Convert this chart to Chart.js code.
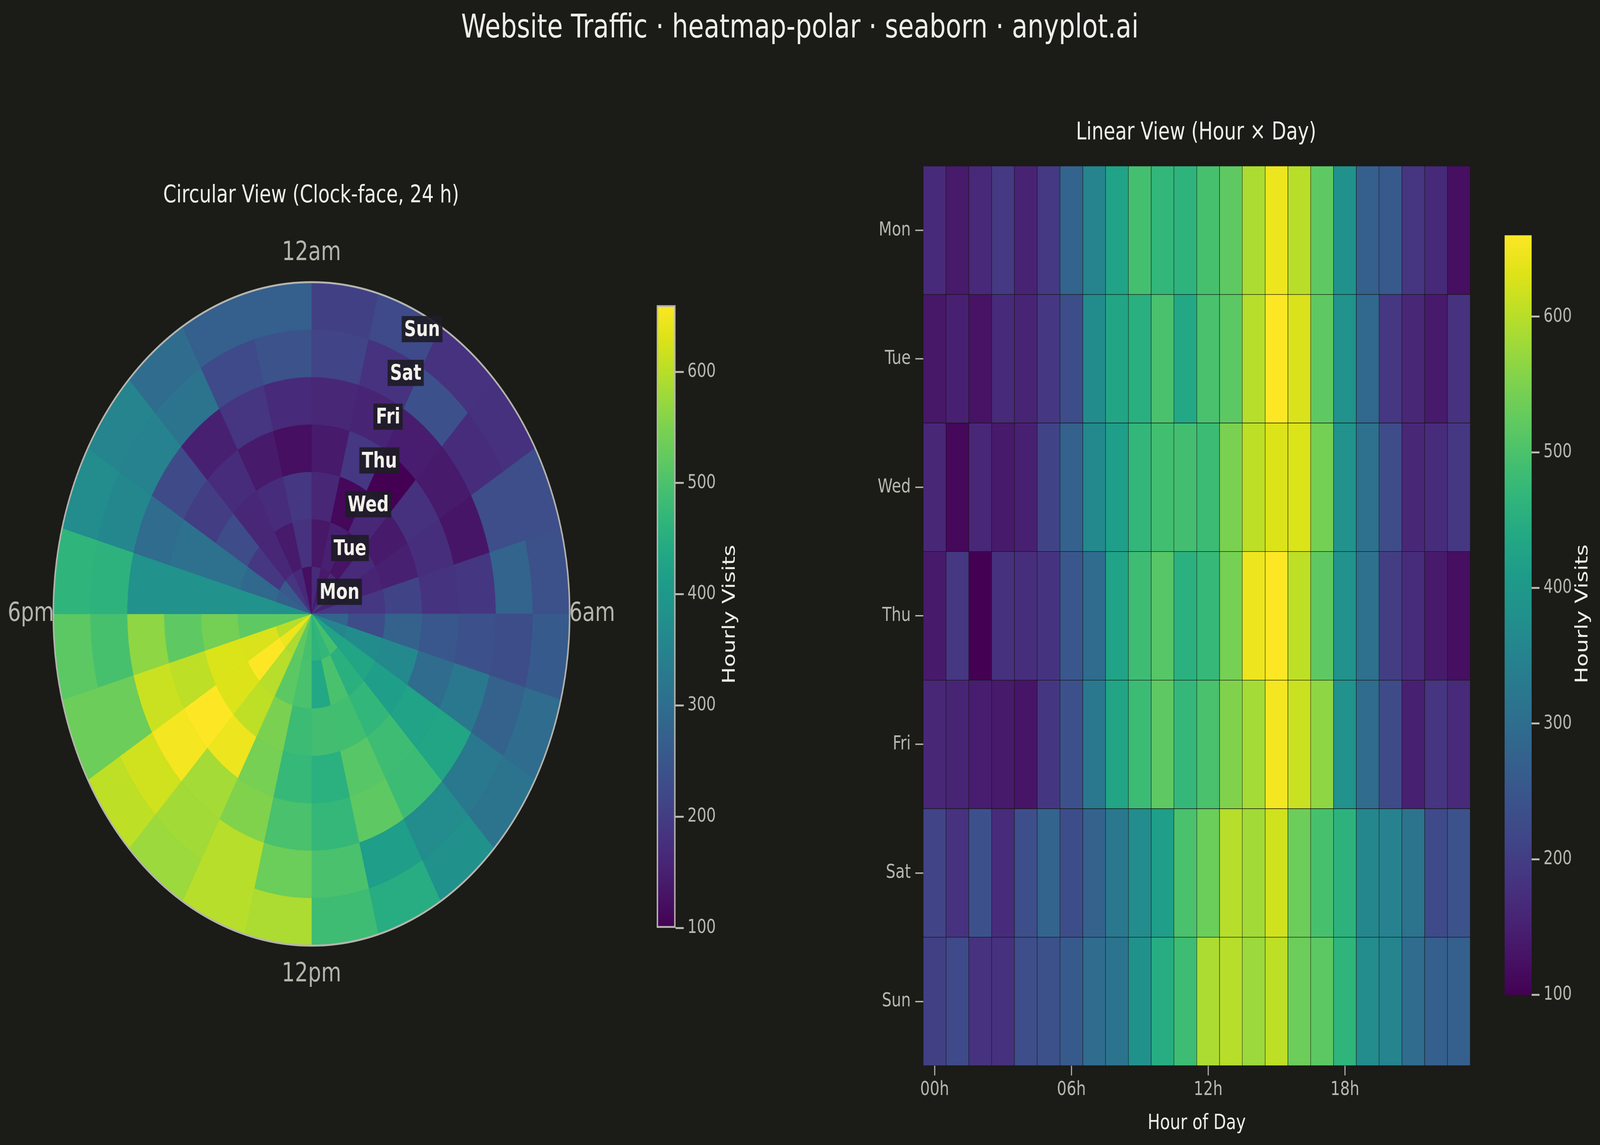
<!DOCTYPE html>
<html>
<head>
<meta charset="utf-8">
<title>Website Traffic · heatmap-polar</title>
<script src="https://cdn.jsdelivr.net/npm/chart.js@4.4.1/dist/chart.umd.min.js"></script>
<style>
  html, body { margin: 0; padding: 0; background: #1b1b17; overflow: hidden; }
  body { font-family: 'DejaVu Sans', sans-serif; }
  #stage { position: absolute; left: 0; top: 0; width: 5265px; height: 2932px; transform-origin: 0 0; }
  canvas { position: absolute; }
  .lbl { position: absolute; white-space: nowrap; transform: translate(-50%, -50%); color: #efeee8; line-height: 1; }
  .rot { transform: translate(-50%, -50%) rotate(-90deg); }
</style>
</head>
<body>
<div id="stage">
<div class="lbl" style="left:2632px;top:67px;font-size:84px">Website Traffic · heatmap-polar · seaborn · anyplot.ai</div>
<div class="lbl" style="left:1024px;top:497px;font-size:62px">Circular View (Clock-face, 24 h)</div>
<div class="lbl" style="left:3936px;top:336px;font-size:62px">Linear View (Hour × Day)</div>
<div class="lbl rot" style="left:2398px;top:1573px;font-size:57px">Hourly Visits</div>
<div class="lbl rot" style="left:5205px;top:1572px;font-size:57px">Hourly Visits</div>

<canvas id="polar" width="2048" height="1940" style="left:1px;top:602px"></canvas>
<canvas id="cbLeft" width="233" height="1680" style="left:2140px;top:740px"></canvas>
<canvas id="heat" width="2100" height="2560" style="left:2800px;top:380px"></canvas>
<canvas id="cbRight" width="310" height="2030" style="left:4930px;top:560px"></canvas>
</div>

<script>
// hourly visits, one array per weekday (00h .. 23h)
const mon = [167, 140, 163, 193, 155, 193, 278, 352, 425, 492, 470, 462, 495, 520, 590, 645, 600, 520, 380, 268, 255, 185, 165, 122];
const tue = [134, 150, 128, 167, 156, 190, 229, 370, 430, 453, 498, 436, 497, 517, 598, 660, 627, 520, 383, 287, 190, 162, 140, 180];
const wed = [162, 111, 162, 140, 150, 210, 274, 363, 414, 470, 489, 490, 481, 548, 604, 630, 629, 542, 383, 307, 227, 162, 170, 190];
const thu = [140, 190, 100, 178, 173, 183, 251, 296, 425, 485, 512, 455, 474, 543, 645, 660, 604, 520, 383, 307, 200, 170, 140, 122];
const fri = [162, 156, 145, 140, 131, 188, 237, 323, 430, 481, 520, 472, 497, 553, 584, 652, 615, 565, 383, 296, 223, 150, 185, 167];
const sat = [212, 181, 237, 170, 232, 279, 229, 274, 324, 369, 414, 498, 533, 598, 582, 620, 534, 495, 460, 358, 348, 313, 224, 240];
const sun = [205, 224, 181, 179, 232, 235, 257, 296, 313, 380, 447, 484, 590, 598, 576, 604, 534, 517, 464, 369, 352, 296, 268, 268];

const days = ['Mon', 'Tue', 'Wed', 'Thu', 'Fri', 'Sat', 'Sun'];
const hourLabels = ['00h', '01h', '02h', '03h', '04h', '05h', '06h', '07h', '08h', '09h', '10h', '11h',
                    '12h', '13h', '14h', '15h', '16h', '17h', '18h', '19h', '20h', '21h', '22h', '23h'];
const clockLabels = ['12am', '6am', '12pm', '6pm'];
const cbTicks = [100, 200, 300, 400, 500, 600];
const cbMin = 100, cbMax = 660;

const rows = [mon, tue, wed, thu, fri, sat, sun];

const GRAY = '#b8b8b0';
const WHITE = '#efeee8';
Chart.defaults.font.family = "'DejaVu Sans', sans-serif";

// the layout is drawn at 5265x2932 and fitted to the actual window
const stage = document.getElementById('stage');
stage.style.transform = `scale(${window.innerWidth / 5265}, ${window.innerHeight / 2932})`;

// viridis colour stops
const viridisStops = [
  [0.00, '#440154'], [0.05, '#471365'], [0.10, '#482475'], [0.15, '#463480'],
  [0.20, '#414487'], [0.25, '#3b528b'], [0.30, '#355f8d'], [0.35, '#2f6c8e'],
  [0.40, '#2a788e'], [0.45, '#25848e'], [0.50, '#21918c'], [0.55, '#1e9b8a'],
  [0.60, '#22a884'], [0.65, '#2fb47c'], [0.70, '#44bf70'], [0.75, '#5ec962'],
  [0.80, '#7ad151'], [0.85, '#9bd93c'], [0.90, '#bddf26'], [0.95, '#dfe318'],
  [1.00, '#fde725']
];

function hexRgb(h) {
  return [parseInt(h.slice(1, 3), 16), parseInt(h.slice(3, 5), 16), parseInt(h.slice(5, 7), 16)];
}

function viridis(v) {
  let t = (v - cbMin) / (cbMax - cbMin);
  t = Math.max(0, Math.min(1, t));
  for (let i = 1; i < viridisStops.length; i++) {
    const [t1, c1] = viridisStops[i];
    if (t <= t1) {
      const [t0, c0] = viridisStops[i - 1];
      const f = (t - t0) / (t1 - t0);
      const a = hexRgb(c0), b = hexRgb(c1);
      const c = a.map((x, k) => Math.round(x + (b[k] - x) * f));
      return `rgb(${c[0]},${c[1]},${c[2]})`;
    }
  }
  return viridisStops[viridisStops.length - 1][1];
}

// ---- circular view: one doughnut ring per day, Sun outermost ----
const polarDecor = {
  id: 'polarDecor',
  afterDatasetsDraw(chart) {
    const arc = chart.getDatasetMeta(0).data[0];
    const cx = arc.x, cy = arc.y, R = arc.outerRadius;
    const ctx = chart.ctx;
    ctx.save();
    ctx.beginPath();
    ctx.arc(cx, cy, R, 0, Math.PI * 2);
    ctx.strokeStyle = '#b5b5ad';
    ctx.lineWidth = 5;
    ctx.stroke();

    ctx.fillStyle = '#b5b5ad';
    ctx.font = "68px 'DejaVu Sans'";
    ctx.textAlign = 'center';
    ctx.textBaseline = 'middle';
    clockLabels.forEach((t, k) => {
      const a = k * Math.PI / 2;
      ctx.fillText(t, cx + (R + 74) * Math.sin(a), cy - (R + 74) * Math.cos(a));
    });

    const ringW = R / days.length;
    const th = 1.5 / 24 * Math.PI * 2;
    ctx.font = "bold 55px 'DejaVu Sans'";
    ctx.textAlign = 'left';
    ctx.textBaseline = 'alphabetic';
    days.forEach((d, i) => {
      const r = (i + 0.5) * ringW;
      const x = cx + r * Math.sin(th) + 3, y = cy - r * Math.cos(th);
      const w = ctx.measureText(d).width;
      ctx.fillStyle = 'rgba(30,28,38,0.92)';
      ctx.fillRect(x - 8, y - 34, w + 16, 67);
      ctx.fillStyle = '#f2f1ea';
      ctx.fillText(d, x, y + 17);
    });
    ctx.restore();
  }
};

new Chart(document.getElementById('polar'), {
  type: 'doughnut',
  data: {
    labels: hourLabels,
    datasets: rows.slice().reverse().map(vals => ({
      data: vals.map(() => 1),
      backgroundColor: vals.map(viridis),
      borderColor: vals.map(viridis),
      borderWidth: 1
    }))
  },
  options: {
    responsive: false,
    devicePixelRatio: 1,
    animation: false,
    cutout: 0,
    layout: { padding: { left: 174, right: 174, top: 120, bottom: 120 } },
    plugins: { legend: { display: false }, tooltip: { enabled: false } }
  },
  plugins: [polarDecor]
});

// ---- linear view: stacked unit bars coloured by value ----
new Chart(document.getElementById('heat'), {
  type: 'bar',
  data: {
    labels: hourLabels,
    datasets: rows.map((vals, i) => ({
      label: days[i],
      data: vals.map(() => 1),
      backgroundColor: vals.map(viridis),
      borderColor: 'rgba(16,16,14,0.55)',
      borderWidth: 1,
      borderSkipped: false,
      barPercentage: 1,
      categoryPercentage: 1
    }))
  },
  options: {
    responsive: false,
    devicePixelRatio: 1,
    animation: false,
    layout: { padding: { top: 40, right: 62, left: 0, bottom: 0 } },
    plugins: { legend: { display: false }, tooltip: { enabled: false } },
    scales: {
      x: {
        stacked: true,
        offset: true,
        grid: {
          display: true, offset: false, drawOnChartArea: false, drawTicks: true,
          tickLength: 25, lineWidth: 3.5,
          color: c => (c.index % 6 === 0 ? GRAY : 'rgba(0,0,0,0)')
        },
        border: { display: false },
        ticks: {
          autoSkip: false, maxRotation: 0, minRotation: 0, padding: 7,
          color: GRAY, font: { size: 50 },
          callback: (v, i) => (i % 6 === 0 ? hourLabels[i] : '')
        },
        title: { display: true, text: 'Hour of Day', color: WHITE, font: { size: 54 }, padding: { top: 0, bottom: 31 } },
        afterFit: s => { s.height = 211; }
      },
      y: {
        stacked: true,
        reverse: true,
        min: 0,
        max: 7,
        afterBuildTicks: s => { s.ticks = days.map((d, i) => ({ value: i + 0.5 })); },
        grid: { display: true, drawOnChartArea: false, drawTicks: true, tickLength: 26, lineWidth: 3.5, color: GRAY },
        border: { display: false },
        ticks: { color: GRAY, padding: 15, font: { size: 50 }, callback: v => days[Math.floor(v)] },
        afterFit: s => { s.width = 238; }
      }
    }
  }
});

// ---- colour bars ----
function colorbar(id, o) {
  new Chart(document.getElementById(id), {
    type: 'bar',
    data: {
      labels: [''],
      datasets: [{
        data: [[cbMin, cbMax]],
        backgroundColor: c => {
          const a = c.chart.chartArea;
          if (!a) return viridisStops[0][1];
          const g = c.chart.ctx.createLinearGradient(0, a.bottom, 0, a.top);
          viridisStops.forEach(([t, col]) => g.addColorStop(t, col));
          return g;
        },
        borderColor: o.outline,
        borderWidth: o.outlineWidth,
        borderSkipped: false,
        barPercentage: 1,
        categoryPercentage: 1
      }]
    },
    options: {
      responsive: false,
      devicePixelRatio: 1,
      animation: false,
      layout: { padding: o.padding },
      plugins: { legend: { display: false }, tooltip: { enabled: false } },
      scales: {
        x: { display: false },
        y: {
          position: 'right',
          min: cbMin,
          max: cbMax,
          afterBuildTicks: s => { s.ticks = cbTicks.map(v => ({ value: v })); },
          afterFit: s => { s.width = o.axisWidth; },
          grid: { drawOnChartArea: false, drawTicks: true, tickLength: o.tickLength, lineWidth: 5, color: GRAY },
          border: { display: false },
          ticks: { color: GRAY, padding: o.tickPad, font: { size: o.fontSize } }
        }
      }
    }
  });
}

colorbar('cbLeft', {
  outline: '#b5b5ad', outlineWidth: 5,
  padding: { left: 21, right: 0, top: 31, bottom: 44 },
  axisWidth: 150, tickLength: 27, tickPad: 12, fontSize: 49
});
colorbar('cbRight', {
  outline: 'rgba(0,0,0,0)', outlineWidth: 0,
  padding: { left: 21, right: 0, top: 32, bottom: 37 },
  axisWidth: 200, tickLength: 26, tickPad: 13, fontSize: 49
});
</script>
</body>
</html>
